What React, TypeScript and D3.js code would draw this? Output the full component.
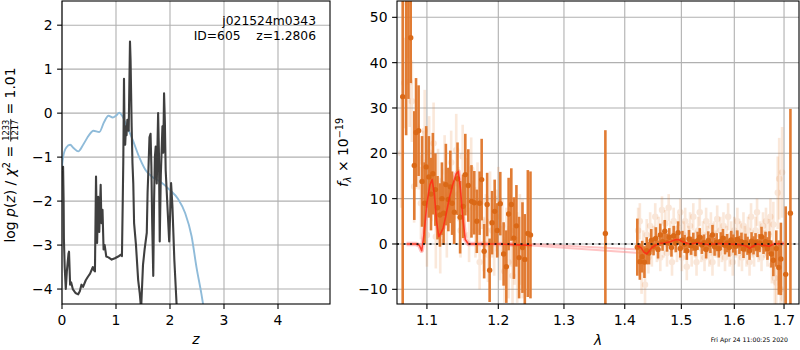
import { useRef, useEffect } from "react";
import * as d3 from "d3";

const FONT = "'DejaVu Sans', sans-serif";

// ---- p(z) panel ----
const zTicks = [0, 1, 2, 3, 4];
const logpTicks = [-4, -3, -2, -1, 0, 1, 2];

const priorZ = [0, 0.02, 0.08, 0.15, 0.22, 0.3, 0.4, 0.5, 0.58, 0.69, 0.78, 0.86, 0.94, 1.0, 1.06, 1.12, 1.2, 1.3, 1.44, 1.55, 1.66, 1.81, 2.0, 2.15, 2.28, 2.4, 2.49, 2.58, 2.66];
const priorLogp = [-1.22, -1.0, -0.78, -0.72, -0.8, -0.87, -0.7, -0.5, -0.4, -0.43, -0.2, -0.06, -0.1, -0.06, 0.01, -0.07, -0.3, -0.58, -1.03, -1.3, -1.44, -1.55, -1.75, -1.95, -2.27, -2.8, -3.5, -4.1, -4.7];

const pdfZ = [0.01, 0.02, 0.03, 0.035, 0.05, 0.07, 0.09, 0.12, 0.13, 0.15, 0.17, 0.2, 0.25, 0.3, 0.33, 0.36, 0.39, 0.44, 0.48, 0.52, 0.57, 0.58, 0.61, 0.63, 0.65, 0.67, 0.69, 0.716, 0.73, 0.75, 0.77, 0.79, 0.82, 0.86, 0.92, 0.98, 1.04, 1.09, 1.11, 1.125, 1.135, 1.148, 1.16, 1.17, 1.185, 1.195, 1.21, 1.235, 1.259, 1.27, 1.29, 1.305, 1.32, 1.335, 1.37, 1.41, 1.44, 1.465, 1.5, 1.53, 1.57, 1.585, 1.6, 1.62, 1.64, 1.655, 1.67, 1.69, 1.705, 1.72, 1.735, 1.755, 1.78, 1.795, 1.81, 1.83, 1.86, 1.875, 1.89, 1.905, 1.92, 1.95, 1.985, 2.0, 2.02, 2.045, 2.08, 2.12, 2.16];
const pdfLogp = [-1.3, -1.22, -2.0, -2.85, -3.5, -4.0, -3.6, -3.2, -3.15, -3.9, -3.85, -4.0, -4.09, -4.12, -4.05, -3.9, -3.95, -3.8, -3.72, -3.65, -3.5, -3.55, -3.6, -1.44, -2.95, -1.9, -2.7, -1.63, -2.5, -2.2, -3.1, -3.0, -3.26, -3.28, -3.33, -3.3, -3.26, -3.22, -3.25, -2.0, -1.1, 0.78, -0.6, -0.72, -0.3, -0.5, -0.15, -0.4, 1.63, 1.2, -0.3, -1.14, -1.6, -2.5, -3.0, -3.79, -4.1, -4.45, -3.45, -3.1, -2.72, -1.8, -1.3, -0.55, -0.47, -1.2, -2.5, -3.7, -2.0, -1.0, -0.76, -1.6, 0.0, -0.9, -2.92, -1.4, -0.3, -0.9, 0.45, -0.2, -1.3, -2.05, -2.92, -2.4, -1.59, -2.12, -3.33, -4.3, -5.2];

// ---- spectrum panel ----
const lamTicks = [1.1, 1.2, 1.3, 1.4, 1.5, 1.6, 1.7];
const fluxTicks = [-10, 0, 10, 20, 30, 40, 50];

// G102 combined
const g102Wave = [1.068, 1.0725, 1.0755, 1.0785, 1.0832, 1.0855, 1.0889, 1.0935, 1.0968, 1.099, 1.1026, 1.1055, 1.108, 1.1114, 1.1143, 1.1176, 1.1203, 1.1226, 1.1257, 1.1291, 1.1318, 1.1343, 1.1373, 1.1418, 1.1454, 1.1496, 1.1527, 1.1569, 1.1614, 1.1654, 1.169, 1.173, 1.1759, 1.1795, 1.1838, 1.1874, 1.1909, 1.1947, 1.1984, 1.2029, 1.2078, 1.2118, 1.2152, 1.2192, 1.223, 1.2268, 1.2308, 1.2359, 1.2394, 1.244, 1.248];
const g102Flux = [32.5, 62, 58, 45.5, 17.3, 24.6, 25, 13.8, 9, 17, 14.8, 11, 15.5, 12, 8, 6.4, 10, 6.8, 13.1, 9.8, 12.6, 9, 7, 14.4, 5.9, 8.3, 15.3, 12.9, 9.4, 9.1, 5, 9.0, 14.2, -1.6, 8.7, -5.8, 4.7, 7.2, 3, 8.9, -2.2, -5, 6.6, 8.7, 1.3, 4, -3.0, -0.8, -3.4, 2.3, 2.0];
const g102Err = [48, 38, 26, 10, 12, 12, 10, 10, 9, 9, 9, 8, 9, 8, 7, 7, 8, 7, 9, 7, 8, 7, 7, 8, 8, 7, 9, 8, 8, 7, 7, 7, 9, 6, 7, 7, 7, 7, 6, 7, 7, 8, 8, 8, 9, 9, 9, 10, 10, 14, 14];

// G102 individual
const g102RawWave = [1.066, 1.07, 1.0745, 1.077, 1.08, 1.083, 1.086, 1.089, 1.092, 1.095, 1.097, 1.1, 1.103, 1.106, 1.109, 1.112, 1.115, 1.118, 1.121, 1.124, 1.127, 1.13, 1.133, 1.136, 1.14, 1.143, 1.146, 1.149, 1.152, 1.155, 1.158, 1.161, 1.164, 1.167, 1.17, 1.173, 1.176, 1.179, 1.182, 1.185, 1.188, 1.191, 1.194, 1.197, 1.2, 1.203, 1.206, 1.209, 1.212, 1.215, 1.218, 1.221, 1.224, 1.228, 1.232, 1.236];
const g102RawFlux = [20, 35.5, 53, 35.8, 31.5, 12.7, 26, 19, 9, 18, 25, 2, 20.2, 12, 22.2, 1.6, 14, 0.5, 8, 16, 4, 11, 18, 6, 20.7, 11, 3, 19.3, 9, 13, 2, 16.5, 8, 3, 12, -4, 9.3, 0, 5, -2.4, 10, 3, -1, 6, 10, -2, 4, -6, 1, -4, 3, -7, 0, -3, 1, -1];
const g102RawErr = [12, 10, 12, 10, 9, 8, 9, 7, 8, 7, 9, 7, 8, 7, 9, 7, 7, 7, 6, 8, 7, 6, 7, 6, 8, 6, 6, 7, 6, 6, 6, 7, 6, 6, 6, 6, 6, 6, 6, 6, 6, 6, 6, 6, 7, 6, 6, 7, 7, 8, 8, 9, 9, 10, 10, 11];

// G141 combined
const g141Wave = [1.3673, 1.4216, 1.426, 1.43, 1.434, 1.438, 1.442, 1.446, 1.45, 1.454, 1.458, 1.462, 1.466, 1.47, 1.474, 1.478, 1.482, 1.486, 1.49, 1.494, 1.498, 1.502, 1.506, 1.51, 1.514, 1.518, 1.522, 1.526, 1.53, 1.534, 1.538, 1.542, 1.546, 1.55, 1.554, 1.558, 1.562, 1.566, 1.57, 1.574, 1.578, 1.582, 1.586, 1.59, 1.594, 1.598, 1.602, 1.606, 1.61, 1.614, 1.618, 1.622, 1.626, 1.63, 1.634, 1.638, 1.642, 1.646, 1.65, 1.654, 1.658, 1.662, 1.666, 1.67, 1.674, 1.678, 1.684, 1.6892, 1.6935, 1.7035, 1.7133];
const g141Flux = [2.3, -0.7, -3.9, -2.8, -4.0, -1.5, -2.0, 0.8, -0.5, 1.2, -1.2, 2.0, 0.5, 2.8, 0.3, 1.5, -0.8, 1.8, 0.2, 2.5, -1.0, 0.9, 0.0, -1.5, 1.1, -0.4, 0.5, -0.9, 0.7, 1.5, -0.2, 0.3, -1.2, 0.8, 0.0, 2.0, -0.6, 0.4, -1.0, 0.6, 1.3, -0.3, 0.2, -0.8, 0.9, 0.1, -0.5, 1.0, -0.2, 0.5, -1.1, 0.3, -0.4, -1.5, 0.6, -0.3, 0.4, -0.9, 0.2, 1.6, -0.2, 0.5, -1.0, 0.3, -2.2, -3.6, -1.0, -5.2, -3.3, -6.7, 6.8];
const g141Err = [22.8, 6.3, 4, 3.5, 3.5, 3, 2.5, 2.5, 2, 2.5, 2, 2.5, 2, 2.5, 2, 2, 2, 2.2, 2, 2.5, 2, 2, 2, 2, 2, 2, 2, 1.8, 2, 2, 2, 1.8, 2, 2, 2, 2.2, 2, 2, 2, 2, 2, 2, 2, 2, 2, 2, 2, 2, 2, 2, 2, 2, 2, 2, 2, 2, 2, 2, 2, 2.2, 2, 2.2, 2.5, 2.5, 3, 3.5, 4, 6, 8, 15, 23];

// G141 individual
const g141RawWave = [1.423, 1.426, 1.429, 1.432, 1.435, 1.438, 1.441, 1.444, 1.447, 1.45, 1.453, 1.456, 1.459, 1.462, 1.465, 1.468, 1.471, 1.474, 1.477, 1.48, 1.483, 1.486, 1.489, 1.492, 1.495, 1.498, 1.501, 1.504, 1.507, 1.51, 1.513, 1.516, 1.519, 1.522, 1.525, 1.528, 1.531, 1.534, 1.537, 1.54, 1.543, 1.546, 1.549, 1.552, 1.555, 1.558, 1.561, 1.564, 1.567, 1.57, 1.573, 1.576, 1.579, 1.582, 1.585, 1.588, 1.591, 1.594, 1.597, 1.6, 1.603, 1.606, 1.609, 1.612, 1.615, 1.618, 1.621, 1.624, 1.627, 1.63, 1.633, 1.636, 1.639, 1.642, 1.645, 1.648, 1.651, 1.654, 1.657, 1.66, 1.663, 1.666, 1.669, 1.672, 1.675, 1.678, 1.681, 1.684, 1.687, 1.69, 1.693, 1.696, 1.699];
const g141RawFlux = [3, 5, -6, -1, -9, 2, -3, 4, -2, 1, 6, -1, 3, -3, 7.5, 0, 4.5, -2, 8, 2, -4, 5, 1, -1, 3.5, 7, -3, 2, 5, -5, 1, 4, -2, 6, 0, -4, 3, 7, -1, 2, -3, 5, 1, -2, 4, -4, 2, 0, 5.5, -2, 3, -1, 4, -3, 1, 6, -2, 2, -4, 3, 0, 5, -2, 2, -3, 4, 1, -2, 3, -4, 6, 0, -2, 3, 7, -1, 2, -3, 4, 0, 5, -2, 2, 6, -4.7, 4.3, -7.5, -8.5, 11.3, 14.4, -10, 15.8, -12];
const g141RawErr = [5, 4, 5, 4, 5, 3.5, 3.5, 3, 3, 3, 3, 3, 3, 3, 3, 3, 3, 3, 3, 3, 3, 3, 3, 3, 3, 3, 3, 3, 3, 3, 3, 3, 3, 3, 3, 3, 3, 3, 3, 3, 3, 3, 3, 3, 3, 3, 3, 3, 3, 3, 3, 3, 3, 3, 3, 3, 3, 3, 3, 3, 3, 3, 3, 3, 3, 3, 3, 3, 3, 3, 3, 3, 3, 3, 3, 3, 3, 3, 3, 3, 3, 3, 3.5, 4, 4, 5, 6, 7, 8, 9, 9, 10, 12];

// best-fit model
const model102Wave = [1.073, 1.085, 1.09, 1.093, 1.096, 1.1, 1.104, 1.107, 1.11, 1.113, 1.116, 1.119, 1.122, 1.126, 1.13, 1.135, 1.14, 1.143, 1.146, 1.149, 1.1526, 1.157, 1.165, 1.2, 1.25];
const model102Flux = [0, 0, -0.3, -1.5, 2, 9, 13, 14.2, 11, 5, 1.6, 2.5, 3.5, 6.5, 9.8, 13, 15.5, 16, 12, 6, 1, 0, 0, 0, -0.3];
const model141Wave = [1.4216, 1.428, 1.433, 1.438, 1.442, 1.447, 1.452, 1.46, 1.47, 1.48, 1.49, 1.496, 1.505, 1.515, 1.53, 1.55, 1.57, 1.59, 1.61, 1.625, 1.63, 1.635, 1.645, 1.66, 1.67, 1.678, 1.7];
const model141Flux = [-0.4, -0.8, -1.8, -2.2, -1.6, -0.8, -0.4, 0.1, 0.2, 0.5, 1.0, 0.9, 0.3, 0.0, 0.2, -0.1, 0.1, 0.0, -0.1, -0.5, -1.0, -0.6, 0.0, -0.3, -0.5, 0.0, 0.1];
const gapAWave = [1.245, 1.425];
const gapAFlux = [0, -1.2];
const gapBWave = [1.245, 1.425];
const gapBFlux = [-0.3, -2.0];

export default function App() {
  const svgRef = useRef<SVGSVGElement>(null);

  useEffect(() => {
    if (!svgRef.current) return;
    const svg = d3.select(svgRef.current);
    svg.selectAll("*").remove();
    svg.attr("font-family", FONT);

    const top = 1;
    const bottom = 304;
    const grid = "#b0b0b0";

    const defs = svg.append("defs");

    function frame(x: d3.ScaleContinuousNumeric<number, number>, y: d3.ScaleLinear<number, number>,
      xt: number[], yt: number[], xfmt: (v: number) => string, id: string) {
      const [x0, x1] = x.range();
      defs.append("clipPath").attr("id", id)
        .append("rect").attr("x", x0).attr("y", top).attr("width", x1 - x0).attr("height", bottom - top);
      // grid
      svg.append("g").selectAll("line").data(xt).join("line")
        .attr("x1", (d) => x(d)).attr("x2", (d) => x(d)).attr("y1", top).attr("y2", bottom)
        .attr("stroke", grid).attr("stroke-width", 1.1);
      svg.append("g").selectAll("line").data(yt).join("line")
        .attr("x1", x0).attr("x2", x1).attr("y1", (d) => y(d)).attr("y2", (d) => y(d))
        .attr("stroke", grid).attr("stroke-width", 1.1);
      // ticks + labels
      const tx = svg.append("g");
      xt.forEach((v) => {
        tx.append("line").attr("x1", x(v)).attr("x2", x(v)).attr("y1", bottom).attr("y2", bottom + 4.9)
          .attr("stroke", "#000").attr("stroke-width", 1.1);
        tx.append("text").attr("x", x(v)).attr("y", bottom + 20.5).attr("text-anchor", "middle")
          .attr("font-size", 13.9).text(xfmt(v));
      });
      yt.forEach((v) => {
        tx.append("line").attr("x1", x0 - 4.9).attr("x2", x0).attr("y1", y(v)).attr("y2", y(v))
          .attr("stroke", "#000").attr("stroke-width", 1.1);
        tx.append("text").attr("x", x0 - 9.5).attr("y", y(v) + 5).attr("text-anchor", "end")
          .attr("font-size", 13.9).text(String(v).replace("-", "\u2212"));
      });
      return svg.append("g").attr("clip-path", `url(#${id})`);
    }

    function border(x0: number, x1: number) {
      svg.append("rect").attr("x", x0).attr("y", top).attr("width", x1 - x0).attr("height", bottom - top)
        .attr("fill", "none").attr("stroke", "#000").attr("stroke-width", 1.1);
    }

    // ---------- left: p(z) ----------
    const xz = d3.scaleLinear().domain([0, 4.963]).range([62, 330]);
    const yp = d3.scaleLinear().domain([-4.34, 2.55]).range([bottom, top]);
    const gl = frame(xz, yp, zTicks, logpTicks, (v) => String(v), "clipL");

    const lineL = d3.line<number>().x((_, i) => xz(priorZ[i])).y((d) => yp(d)).curve(d3.curveMonotoneX);
    gl.append("path").attr("d", lineL(priorLogp)).attr("fill", "none")
      .attr("stroke", "#8fbbd9").attr("stroke-width", 1.9);
    const lineP = d3.line<number>().x((_, i) => xz(pdfZ[i])).y((d) => yp(d));
    gl.append("path").attr("d", lineP(pdfLogp)).attr("fill", "none")
      .attr("stroke", "#3f3f3f").attr("stroke-width", 2.1).attr("stroke-linejoin", "round");
    border(62, 330);

    svg.append("text").attr("x", 316).attr("y", 25).attr("text-anchor", "end").attr("font-size", 12.3)
      .text("j021524m0343");
    svg.append("text").attr("x", 316).attr("y", 39.5).attr("text-anchor", "end").attr("font-size", 12.3)
      .attr("xml:space", "preserve").text("ID=605    z=1.2806");

    svg.append("text").attr("x", 196).attr("y", 344).attr("text-anchor", "middle").attr("font-size", 13.9)
      .attr("font-style", "italic").text("z");

    // ---------- right: spectrum ----------
    const xl = d3.scaleLog().domain([1.0606, 1.7313]).range([397, 799]);
    const yf = d3.scaleLinear().domain([-13.24, 53.6]).range([bottom, top]);
    const gr = frame(xl, yf, lamTicks, fluxTicks, (v) => v.toFixed(1), "clipR");

    function points(g: d3.Selection<SVGGElement, unknown, null, undefined>, wave: number[], flux: number[], err: number[],
      bar: string, dot: string, op: number, r: number) {
      const s = g.append("g").attr("opacity", op);
      wave.forEach((w, i) => {
        s.append("line").attr("x1", xl(w)).attr("x2", xl(w))
          .attr("y1", yf(flux[i] - err[i])).attr("y2", yf(flux[i] + err[i]))
          .attr("stroke", bar).attr("stroke-width", 2.6);
      });
      wave.forEach((w, i) => {
        s.append("circle").attr("cx", xl(w)).attr("cy", yf(flux[i])).attr("r", r).attr("fill", dot);
      });
    }

    const raw = gr.append("g");
    [[g102RawWave, g102RawFlux, g102RawErr], [g141RawWave, g141RawFlux, g141RawErr]].forEach(([w, f, e]) => {
      w.forEach((lam, i) => {
        const s = raw.append("g").attr("opacity", 0.17);
        s.append("line").attr("x1", xl(lam)).attr("x2", xl(lam))
          .attr("y1", yf(f[i] - e[i])).attr("y2", yf(f[i] + e[i]))
          .attr("stroke", "#e77a2a").attr("stroke-width", 2.6);
        s.append("circle").attr("cx", xl(lam)).attr("cy", yf(f[i])).attr("r", 3.2).attr("fill", "#e0701e");
      });
    });

    const mline = (wv: number[]) => d3.line<number>().x((_, i) => xl(wv[i])).y((d) => yf(d));
    const pink = gr.append("g").attr("fill", "none").attr("stroke", "#ff8a8a").attr("stroke-width", 4.5)
      .attr("opacity", 0.5).attr("stroke-linejoin", "round");
    pink.append("path").attr("d", mline(model102Wave)(model102Flux));
    pink.append("path").attr("d", mline(model141Wave)(model141Flux));
    pink.append("path").attr("d", mline(gapAWave)(gapAFlux)).attr("stroke-width", 2);
    pink.append("path").attr("d", mline(gapBWave)(gapBFlux)).attr("stroke-width", 2);

    points(gr, g102Wave, g102Flux, g102Err, "#e0762a", "#d9620c", 0.95, 2.7);
    points(gr, g141Wave, g141Flux, g141Err, "#e0762a", "#d9620c", 0.95, 2.7);

    const red = gr.append("g").attr("fill", "none").attr("stroke", "#ff2a14").attr("stroke-width", 1.6)
      .attr("opacity", 0.85).attr("stroke-linejoin", "round");
    red.append("path").attr("d", mline(model102Wave)(model102Flux));
    red.append("path").attr("d", mline(model141Wave)(model141Flux));

    gr.append("line").attr("x1", 397).attr("x2", 799).attr("y1", yf(0)).attr("y2", yf(0))
      .attr("stroke", "#111").attr("stroke-width", 2).attr("stroke-dasharray", "2,4.5").attr("opacity", 0.85);
    border(397, 799);

    svg.append("text").attr("x", 598).attr("y", 345).attr("text-anchor", "middle").attr("font-size", 13.9)
      .attr("font-style", "italic").text("\u03bb");

    svg.append("text").attr("x", 788).attr("y", 342).attr("text-anchor", "end").attr("font-size", 6.2)
      .text("Fri Apr 24 11:00:25 2020");

    // ---------- rotated y labels ----------
    type Piece = { t: string; size?: number; italic?: boolean; y?: number } | { num: string; den: string; size: number };
    function richLabel(x: number, y: number, pieces: Piece[]) {
      const g = svg.append("g").attr("transform", `translate(${x},${y}) rotate(-90)`);
      const inner = g.append("g");
      let cx = 0;
      pieces.forEach((p) => {
        if ("num" in p) {
          const n = inner.append("text").attr("y", -6).attr("font-size", p.size).text(p.num);
          const d = inner.append("text").attr("y", 3).attr("font-size", p.size).text(p.den);
          const wn = (n.node() as SVGTextElement).getComputedTextLength();
          const wd = (d.node() as SVGTextElement).getComputedTextLength();
          const w = Math.max(wn, wd) + 1.5;
          n.attr("x", cx + (w - wn) / 2);
          d.attr("x", cx + (w - wd) / 2);
          inner.append("line").attr("x1", cx).attr("x2", cx + w).attr("y1", -4.3).attr("y2", -4.3)
            .attr("stroke", "#000").attr("stroke-width", 0.8);
          cx += w;
        } else {
          const t = inner.append("text").attr("x", cx).attr("y", p.y ?? 0).attr("font-size", p.size ?? 13.9)
            .attr("xml:space", "preserve").text(p.t);
          if (p.italic) t.attr("font-style", "italic");
          cx += (t.node() as SVGTextElement).getComputedTextLength();
        }
      });
      inner.attr("transform", `translate(${-cx / 2},0)`);
    }

    richLabel(15, 155, [
      { t: "log " }, { t: "p", italic: true }, { t: "(" }, { t: "z", italic: true }, { t: ") / " },
      { t: "\u03c7", italic: true }, { t: "2", size: 9.7, y: -5.5 }, { t: " = " },
      { num: "1233", den: "1217", size: 8.3 }, { t: " = 1.01" },
    ]);
    richLabel(348, 152.5, [
      { t: "f", italic: true }, { t: "\u03bb", italic: true, size: 9.7, y: 3 }, { t: " \u00d7 10" },
      { t: "\u221219", size: 9.7, y: -5.5 },
    ]);
  }, []);

  return (
    <div style={{ width: 800, height: 350 }}>
      <svg ref={svgRef} width={800} height={350} style={{ position: "absolute", left: 0, top: 0 }} />
    </div>
  );
}
